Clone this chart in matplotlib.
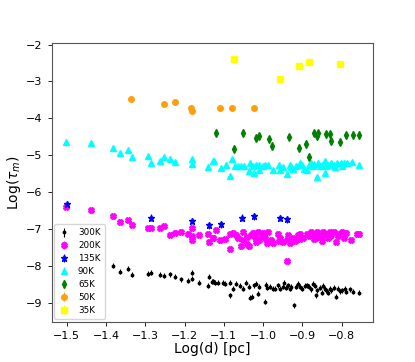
import matplotlib
matplotlib.use("Agg")
import matplotlib.pyplot as plt

# ---- data ------------------------------------------------------------------
x300 = [-1.381, -1.363, -1.343, -1.334, -1.292, -1.286, -1.262, -1.252, -1.236, -1.224,
        -1.209, -1.190, -1.182, -1.182, -1.163, -1.141, -1.138, -1.128,
        -1.131, -1.123, -1.114, -1.103, -1.097, -1.084, -1.083, -1.076, -1.069, -1.059,
        -1.052, -1.044, -1.034, -1.035, -1.027, -1.023, -1.017, -1.012, -1.010, -0.995,
        -0.993, -0.989, -0.983, -0.976, -0.970, -0.962, -0.957, -0.950, -0.947, -0.942,
        -0.936, -0.932, -0.928, -0.922, -0.917, -0.911, -0.906, -0.900, -0.894, -0.889,
        -0.883, -0.879, -0.873, -0.868, -0.866, -0.862, -0.855, -0.851, -0.847, -0.843,
        -0.839, -0.834, -0.830, -0.826, -0.820, -0.815, -0.809, -0.805, -0.798, -0.792,
        -0.788, -0.779, -0.771, -0.756]
y300 = [-7.999, -8.162, -8.071, -8.243, -8.216, -8.180, -8.243, -8.270, -8.225, -8.288,
        -8.360, -8.406, -8.180, -8.342, -8.460, -8.532, -8.288, -8.415,
        -8.433, -8.451, -8.451, -8.451, -8.478, -8.451, -8.794, -8.613, -8.478, -8.541,
        -8.613, -8.451, -8.866, -8.568, -8.839, -8.523, -8.478, -8.749, -8.568, -8.975,
        -8.505, -8.595, -8.568, -8.613, -8.613, -8.523, -8.613, -8.568, -8.451, -8.595,
        -8.523, -8.613, -8.568, -9.065, -8.568, -8.478, -8.568, -8.613, -8.541, -8.523,
        -8.568, -8.631, -8.478, -8.541, -8.794, -8.658, -8.595, -8.722, -8.541, -8.613,
        -8.658, -8.722, -8.613, -8.658, -8.595, -8.839, -8.613, -8.686, -8.658, -8.613,
        -8.704, -8.631, -8.704, -8.722]

x200 = [-1.501, -1.438, -1.381, -1.363, -1.343, -1.334, -1.292, -1.286, -1.262, -1.252,
        -1.236, -1.224, -1.209, -1.192, -1.182, -1.182, -1.182, -1.163, -1.141, -1.138,
        -1.128, -1.120, -1.127, -1.110, -1.097, -1.083, -1.084, -1.076, -1.069, -1.063,
        -1.055, -1.052, -1.051, -1.042, -1.035, -1.032, -1.025, -1.021, -1.018, -1.012,
        -1.010, -1.004, -1.000, -0.995, -0.991, -0.987, -0.980, -0.974, -0.962, -0.957,
        -0.950, -0.940, -0.939, -0.936, -0.932, -0.925, -0.917, -0.911, -0.905, -0.898,
        -0.889, -0.883, -0.877, -0.872, -0.866, -0.862, -0.855, -0.851, -0.847, -0.839,
        -0.834, -0.830, -0.826, -0.820, -0.815, -0.809, -0.800, -0.794, -0.788, -0.775,
        -0.762, -0.756, -0.920, -0.905, -0.850, -0.830, -0.810, -0.870, -1.040, -1.000,
        -0.960]
y200 = [-6.400, -6.490, -6.653, -6.798, -6.762, -6.888, -6.978, -6.960, -6.960, -6.924,
        -7.159, -7.105, -7.078, -7.123, -6.978, -7.195, -7.303, -7.150, -7.123, -7.348,
        -7.231, -7.014, -7.240, -7.303, -7.276, -7.530, -7.123, -7.105, -7.150, -7.240,
        -7.466, -7.078, -7.303, -7.394, -7.466, -7.150, -7.105, -7.213, -7.348, -7.078,
        -7.286, -7.168, -7.105, -7.240, -7.376, -7.078, -7.286, -7.376, -7.123, -7.240,
        -7.348, -7.286, -7.873, -7.168, -7.376, -7.240, -7.286, -7.168, -7.123, -7.240,
        -7.123, -7.195, -7.078, -7.150, -7.240, -7.078, -7.150, -7.330, -7.078, -7.123,
        -7.240, -7.078, -7.150, -7.078, -7.348, -7.123, -7.078, -7.240, -7.105, -7.286,
        -7.123, -7.123, -7.330, -7.260, -7.200, -7.180, -7.200, -7.280, -7.220, -7.200,
        -7.320]

x135 = [-1.500, -1.286, -1.181, -1.137, -1.107, -1.053, -1.023, -0.957, -0.939]
y135 = [-6.330, -6.690, -6.780, -6.897, -6.870, -6.690, -6.653, -6.698, -6.734]

x90 = [-1.501, -1.438, -1.381, -1.363, -1.343, -1.334, -1.292, -1.286, -1.262, -1.252,
       -1.236, -1.224, -1.182, -1.182, -1.139, -1.128, -1.125, -1.107, -1.095, -1.079,
       -1.083, -1.072, -1.063, -1.057, -1.049, -1.034, -1.035, -1.025, -1.023, -1.017,
       -1.011, -1.010, -0.994, -0.987, -0.976, -0.960, -0.957, -0.940, -0.932, -0.929,
       -0.923, -0.906, -0.900, -0.895, -0.889, -0.883, -0.877, -0.872, -0.864, -0.860,
       -0.855, -0.851, -0.843, -0.843, -0.834, -0.828, -0.817, -0.811, -0.802, -0.794,
       -0.786, -0.773, -0.756, -0.915, -0.870, -0.820, -0.800, -0.840, -1.000, -0.950]
y90 = [-4.648, -4.675, -4.802, -4.927, -4.856, -5.054, -5.008, -5.198, -5.154, -5.054,
       -5.089, -5.190, -5.100, -5.225, -5.306, -5.154, -5.163, -5.343, -5.253, -5.108,
       -5.560, -5.298, -5.298, -5.298, -5.298, -5.208, -5.433, -5.298, -5.479, -5.271,
       -5.271, -5.406, -5.253, -5.253, -5.388, -5.253, -5.388, -5.497, -5.253, -5.316,
       -5.379, -5.208, -5.253, -5.379, -5.388, -5.253, -5.208, -5.298, -5.587, -5.208,
       -5.298, -5.253, -5.470, -5.163, -5.253, -5.208, -5.316, -5.208, -5.208, -5.208,
       -5.208, -5.190, -5.253, -5.300, -5.250, -5.260, -5.300, -5.300, -5.300, -5.320]

x65 = [-1.121, -1.052, -1.074, -1.017, -1.011, -0.986, -0.977, -0.934, -0.908, -0.890,
       -0.883, -0.871, -0.864, -0.859, -0.841, -0.830, -0.828, -0.804, -0.789, -0.772,
       -0.757]
y65 = [-4.385, -4.385, -4.818, -4.520, -4.477, -4.566, -4.748, -4.504, -4.791, -4.683,
       -5.035, -4.396, -4.485, -4.396, -4.431, -4.431, -4.612, -4.640, -4.458, -4.439,
       -4.439]

x50 = [-1.335, -1.252, -1.225, -1.183, -1.182, -1.109, -1.078, -1.023]
y50 = [-3.470, -3.600, -3.560, -3.720, -3.810, -3.730, -3.720, -3.720]

x35 = [-1.073, -0.957, -0.908, -0.883, -0.804]
y35 = [-2.380, -2.930, -2.590, -2.480, -2.530]

labels = ["300K", "200K", "135K", "90K", "65K", "50K", "35K"]

# ---- plot -------------------------------------------------------------------
# (x, y, marker, colour, markersize, yerr)
series = [
    (x300, y300, ".", "black", 3.5, 0.07),
    (x200, y200, "X", "magenta", 4.3, 0.07),
    (x135, y135, "*", "blue", 5, 0.09),
    (x90, y90, "^", "cyan", 4, 0.04),
    (x65, y65, "d", "green", 4, 0.09),
    (x50, y50, "o", "#ff9f0f", 4, 0.08),
    (x35, y35, "s", "yellow", 4, 0.07),
]

fig = plt.figure(figsize=(4.15, 3.62), dpi=100)
ax = fig.add_axes([0.1246, 0.111, 0.7744, 0.769])

for (xs, ys, m, c, ms, err), lab in zip(series, labels):
    ax.errorbar(xs, ys, yerr=err, fmt=m, color=c, ms=ms, elinewidth=0.8,
                capsize=0, label=lab)

ax.set_xlim(-1.538, -0.72)
ax.set_ylim(-9.515, -1.97)
ax.set_xticks([-1.5, -1.4, -1.3, -1.2, -1.1, -1.0, -0.9, -0.8])
ax.set_yticks([-2, -3, -4, -5, -6, -7, -8, -9])
ax.tick_params(labelsize=8, length=3, width=0.6)
for s in ax.spines.values():
    s.set_color("#555555")
    s.set_linewidth(0.8)
ax.set_xlabel("Log(d) [pc]", fontsize=10, labelpad=1)
ax.set_ylabel(r"Log($\tau_m$)", fontsize=10, labelpad=2)

ax.legend(loc="lower left", fontsize=6.3, handletextpad=1.0, borderpad=0.5,
          labelspacing=0.45, handlelength=1.2, borderaxespad=0.3)

fig.savefig("out.png", dpi=100)
